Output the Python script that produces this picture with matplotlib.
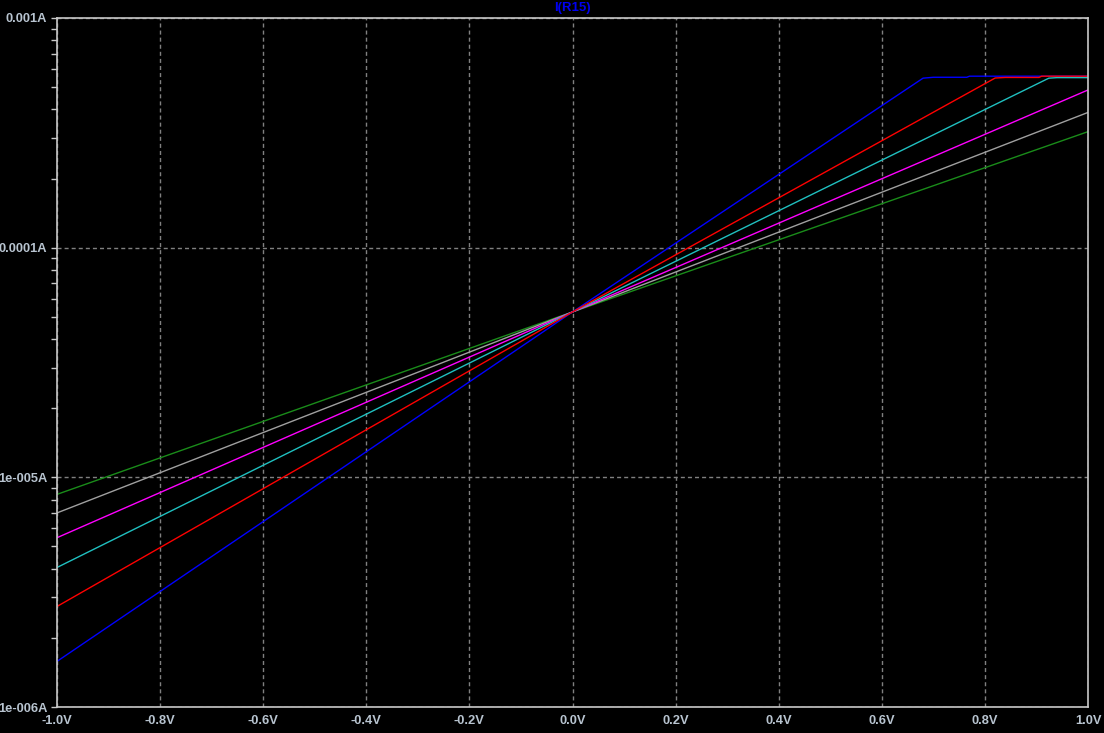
import matplotlib
matplotlib.use("Agg")
import matplotlib.pyplot as plt
from matplotlib.ticker import FixedLocator, LogLocator, NullFormatter, NullLocator

# ---- data ----
title = "I(R15)"
x_ticks = [-1.0, -0.8, -0.6, -0.4, -0.2, 0.0, 0.2, 0.4, 0.6, 0.8, 1.0]
x_tick_labels = ["-1.0V", "-0.8V", "-0.6V", "-0.4V", "-0.2V", "0.0V",
                 "0.2V", "0.4V", "0.6V", "0.8V", "1.0V"]
y_ticks = [1e-6, 1e-5, 1e-4, 1e-3]
y_tick_labels = ["1e-006A", "1e-005A", "0.0001A", "0.001A"]

green_x = [-1.0, 0.0, 1.0]
green_y = [8.43e-6, 5.25e-5, 3.20e-4]
gray_x = [-1.0, 0.0, 1.0]
gray_y = [7.00e-6, 5.25e-5, 3.88e-4]
magenta_x = [-1.0, 0.0, 1.0]
magenta_y = [5.46e-6, 5.25e-5, 4.86e-4]
cyan_x = [-1.0, 0.0, 0.924, 0.94, 1.0]
cyan_y = [4.05e-6, 5.25e-5, 5.47e-4, 5.50e-4, 5.50e-4]
blue_x = [-1.0, 0.0, 0.68, 0.70, 0.765, 0.77, 1.0]
blue_y = [1.58e-6, 5.25e-5, 5.47e-4, 5.52e-4, 5.52e-4, 5.58e-4, 5.58e-4]
red_x = [-1.0, 0.0, 0.82, 0.84, 0.905, 0.91, 1.0]
red_y = [2.74e-6, 5.25e-5, 5.48e-4, 5.51e-4, 5.51e-4, 5.58e-4, 5.58e-4]

series = [
    (green_x, green_y, "#1a8c1a"),
    (gray_x, gray_y, "#a0a0a0"),
    (magenta_x, magenta_y, "#ff00ff"),
    (cyan_x, cyan_y, "#20c0c0"),
    (blue_x, blue_y, "#0000ff"),
    (red_x, red_y, "#ff0000"),
]

# ---- figure ----
W, H = 1104, 733
fig = plt.figure(figsize=(W / 100, H / 100), dpi=100, facecolor="black")
left, right, top, bottom = 57, 1088, 18, 707
ax = fig.add_axes([left / W, 1 - bottom / H, (right - left) / W, (bottom - top) / H])
ax.set_facecolor("black")

for xs, ys, c in series:
    ax.plot(xs, ys, color=c, lw=1.0, solid_joinstyle="miter")

ax.set_yscale("log")
ax.set_xlim(-1.0, 1.0)
ax.set_ylim(1e-6, 1e-3)

ax.xaxis.set_major_locator(FixedLocator(x_ticks))
ax.set_xticklabels(x_tick_labels)
ax.xaxis.set_minor_locator(NullLocator())
ax.yaxis.set_major_locator(FixedLocator(y_ticks))
ax.set_yticklabels(y_tick_labels)
ax.yaxis.set_minor_locator(LogLocator(base=10, subs=range(2, 10)))
ax.yaxis.set_minor_formatter(NullFormatter())

fam = ["Liberation Sans", "DejaVu Sans"]
txt_color = "#b8c4d0"
for lab in ax.get_xticklabels() + ax.get_yticklabels():
    lab.set_fontfamily(fam)
    lab.set_fontweight("bold")
    lab.set_fontsize(9.3)
    lab.set_color(txt_color)

ax.tick_params(axis="x", which="major", length=0, pad=6)
ax.tick_params(axis="y", which="major", length=4, width=1, color="#c8c8c8", pad=3)
ax.tick_params(axis="y", which="minor", length=4, width=1, color="#c8c8c8")

ax.grid(True, which="major", color="#808080", linestyle=(0, (2.9, 2.2)), lw=1)
for s in ax.spines.values():
    s.set_color("#c8c8c8")
    s.set_linewidth(1.2)

fig.text((left + right) / 2 / W, 1 - 8.5 / H, title, color="#0000f0",
         ha="center", va="center", fontsize=9.5, fontweight="bold",
         family=fam)

fig.savefig("out.png", dpi=100, facecolor="black")
